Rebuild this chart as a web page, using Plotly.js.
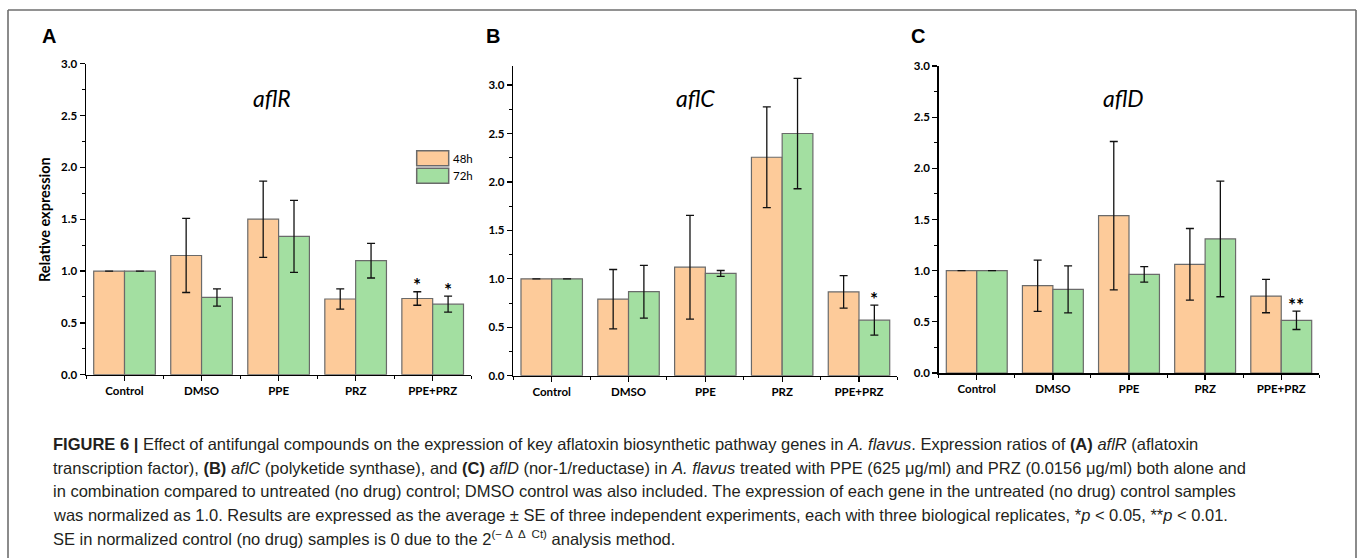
<!DOCTYPE html>
<html>
<head>
<meta charset="utf-8">
<script src="https://cdn.plot.ly/plotly-3.0.1.min.js"></script>
<style>html,body{margin:0;padding:0;background:#fff;}#chart{width:1358px;height:558px;}</style>
</head>
<body>
<div id="chart"></div>
<script>
// ---- data ----
const categories = ['Control', 'DMSO', 'PPE', 'PRZ', 'PPE+PRZ'];
const seriesNames = ['48h', '72h'];
const geneNames = ['aflR', 'aflC', 'aflD'];
const panelLetters = ['A', 'B', 'C'];

const aflR_48h = [1.00, 1.15, 1.50, 0.73, 0.735];
const aflR_48h_se = [0, 0.357, 0.368, 0.098, 0.065];
const aflR_72h = [1.00, 0.745, 1.335, 1.10, 0.68];
const aflR_72h_se = [0, 0.083, 0.347, 0.167, 0.077];
const aflR_48h_sig = ['', '', '', '', '*'];
const aflR_72h_sig = ['', '', '', '', '*'];

const aflC_48h = [1.00, 0.79, 1.12, 2.255, 0.865];
const aflC_48h_se = [0, 0.306, 0.535, 0.52, 0.167];
const aflC_72h = [1.00, 0.867, 1.056, 2.50, 0.573];
const aflC_72h_se = [0, 0.272, 0.03, 0.57, 0.155];
const aflC_48h_sig = ['', '', '', '', ''];
const aflC_72h_sig = ['', '', '', '', '*'];

const aflD_48h = [1.00, 0.853, 1.537, 1.062, 0.752];
const aflD_48h_se = [0, 0.25, 0.725, 0.35, 0.163];
const aflD_72h = [1.00, 0.817, 0.964, 1.31, 0.515];
const aflD_72h_se = [0, 0.23, 0.075, 0.565, 0.09];
const aflD_48h_sig = ['', '', '', '', ''];
const aflD_72h_sig = ['', '', '', '', '**'];

const yMax = [3.0, 3.2, 3.0];
const yTickLabels = ['0.0', '0.5', '1.0', '1.5', '2.0', '2.5', '3.0'];
const yTickValues = [0, 0.5, 1.0, 1.5, 2.0, 2.5, 3.0];

const captionLines = [
  '<b>FIGURE 6 |</b> Effect of antifungal compounds on the expression of key aflatoxin biosynthetic pathway genes in <i>A. flavus</i>. Expression ratios of <b>(A)</b> <i>aflR</i> (aflatoxin',
  'transcription factor), <b>(B)</b> <i>aflC</i> (polyketide synthase), and <b>(C)</b> <i>aflD</i> (nor-1/reductase) in <i>A. flavus</i> treated with PPE (625 μg/ml) and PRZ (0.0156 μg/ml) both alone and',
  'in combination compared to untreated (no drug) control; DMSO control was also included. The expression of each gene in the untreated (no drug) control samples',
  'was normalized as 1.0. Results are expressed as the average ± SE of three independent experiments, each with three biological replicates, *<i>p</i> &lt; 0.05, **<i>p</i> &lt; 0.01.',
  'SE in normalized control (no drug) samples is 0 due to the 2<sup>(− Δ  Δ  Ct)</sup> analysis method.'
];

// ---- styling / layout ----
const W = 1358, H = 558;
const px = v => v / W;
const py = v => 1 - v / H;
const colors = ['#FDCB9A', '#A3DFA1'];
const tickFont = {family: 'Lato, "Open Sans", sans-serif', size: 11.5, color: '#000', weight: 'bold'};

const panels = [
  {m48: aflR_48h, s48: aflR_48h_se, m72: aflR_72h, s72: aflR_72h_se, g48: aflR_48h_sig, g72: aflR_72h_sig,
   xd: [86, 471.2], yd: [374.7, 63.7], titleX: 271.7, letterX: 48.7},
  {m48: aflC_48h, s48: aflC_48h_se, m72: aflC_72h, s72: aflC_72h_se, g48: aflC_48h_sig, g72: aflC_72h_sig,
   xd: [513.3, 897.4], yd: [375.7, 65.7], titleX: 695.7, letterX: 492.7},
  {m48: aflD_48h, s48: aflD_48h_se, m72: aflD_72h, s72: aflD_72h_se, g48: aflD_48h_sig, g72: aflD_72h_sig,
   xd: [938.7, 1319.3], yd: [373, 66], titleX: 1123, letterX: 918.3}
];

const xIdx = categories.map((c, i) => i);
const traces = [];
const annotations = [];
const shapes = [];
const layout = {
  width: W, height: H,
  margin: {l: 0, r: 0, t: 0, b: 0},
  paper_bgcolor: '#fff', plot_bgcolor: 'rgba(0,0,0,0)',
  barmode: 'group', bargap: 0.2, bargroupgap: 0,
  showlegend: false,
  font: {family: 'Lato, sans-serif', color: '#000'}
};

panels.forEach((p, k) => {
  const sfx = k === 0 ? '' : String(k + 1);
  const xa = 'x' + sfx, ya = 'y' + sfx;
  const series = [[p.m48, p.s48, p.g48], [p.m72, p.s72, p.g72]];
  series.forEach((s, j) => {
    traces.push({
      type: 'bar', name: seriesNames[j], x: xIdx, y: s[0],
      xaxis: xa, yaxis: ya,
      marker: {color: colors[j], line: {color: '#6a6a6a', width: 1.2}},
      error_y: {type: 'data', array: s[1], visible: true, color: '#111', thickness: 1.3, width: 4},
      hoverinfo: 'skip'
    });
    s[2].forEach((t, i) => {
      if (!t) return;
      annotations.push({
        xref: xa, yref: ya, x: i + (j === 0 ? -0.2 : 0.2), y: s[0][i] + s[1][i],
        text: t, showarrow: false, yanchor: 'middle', yshift: 7,
        font: {family: 'Lato, sans-serif', size: 19, color: '#000', weight: 'bold'}
      });
    });
  });
  layout['xaxis' + sfx] = {
    domain: [px(p.xd[0]), px(p.xd[1])], anchor: ya, range: [-0.5, 4.5],
    tickmode: 'array', tickvals: xIdx, ticktext: categories,
    showline: true, linecolor: '#000', linewidth: 1.5, mirror: false,
    ticks: 'outside', ticklen: 5, tickwidth: 1.3, tickcolor: '#000',
    minor: {tickmode: 'linear', tick0: 0.5, dtick: 1, ticks: 'outside', ticklen: 3, tickwidth: 1, tickcolor: '#000'},
    showgrid: false, zeroline: false, tickfont: tickFont, fixedrange: true
  };
  layout['yaxis' + sfx] = {
    domain: [py(p.yd[0]), py(p.yd[1])], anchor: xa, range: [0, yMax[k]],
    tickmode: 'array', tickvals: yTickValues, ticktext: yTickLabels,
    showline: true, linecolor: '#000', linewidth: 1.5,
    ticks: 'outside', ticklen: 5, tickwidth: 1.3, tickcolor: '#000',
    minor: {tickmode: 'linear', tick0: 0, dtick: 0.25, ticks: 'outside', ticklen: 3, tickwidth: 1, tickcolor: '#000'},
    showgrid: false, zeroline: false, tickfont: tickFont, fixedrange: true
  };
  annotations.push({
    xref: 'paper', yref: 'paper', x: px(p.titleX), y: py(97.5), xanchor: 'center', yanchor: 'middle',
    text: '<i>' + geneNames[k] + '</i>', showarrow: false,
    font: {family: 'Lato, "Open Sans", sans-serif', size: 23, color: '#000'}
  });
  annotations.push({
    xref: 'paper', yref: 'paper', x: px(p.letterX), y: py(36), xanchor: 'center', yanchor: 'middle',
    text: '<b>' + panelLetters[k] + '</b>', showarrow: false,
    font: {family: '"Liberation Sans", Arial, sans-serif', size: 20, color: '#000'}
  });
});

// y-axis title
annotations.push({
  xref: 'paper', yref: 'paper', x: px(45), y: py(220), xanchor: 'center', yanchor: 'middle',
  text: '<b>Relative expression</b>', textangle: -90, showarrow: false,
  font: {family: 'Lato, sans-serif', size: 14.5, color: '#000'}
});

// legend (panel A)
const legY = [[150.7, 165.7], [168.3, 183.3]];
seriesNames.forEach((n, j) => {
  shapes.push({type: 'rect', xref: 'paper', yref: 'paper', x0: px(416.7), x1: px(448.7),
    y0: py(legY[j][1]), y1: py(legY[j][0]), fillcolor: colors[j], line: {color: '#6a6a6a', width: 1.5}});
  annotations.push({xref: 'paper', yref: 'paper', x: px(451), y: py((legY[j][0] + legY[j][1]) / 2),
    xanchor: 'left', yanchor: 'middle', text: n, showarrow: false,
    font: {family: 'Lato, sans-serif', size: 11.5, color: '#000'}});
});

// frame
const frameColor = '#6e6e6e';
shapes.push({type: 'line', xref: 'paper', yref: 'paper', x0: px(8), x1: px(1356), y0: py(10), y1: py(10), line: {color: frameColor, width: 1.6}});
shapes.push({type: 'line', xref: 'paper', yref: 'paper', x0: px(8), x1: px(8), y0: py(10), y1: 0, line: {color: frameColor, width: 1.6}});
shapes.push({type: 'line', xref: 'paper', yref: 'paper', x0: px(1356), x1: px(1356), y0: py(10), y1: 0, line: {color: frameColor, width: 1.6}});

// caption
const capY = [444, 467.5, 491, 514.5, 538];
captionLines.forEach((t, i) => {
  annotations.push({xref: 'paper', yref: 'paper', x: px(51), y: py(capY[i]), xanchor: 'left', yanchor: 'middle',
    text: t, showarrow: false, align: 'left',
    font: {family: '"Liberation Sans Narrow", "Arial Narrow", sans-serif', size: 16.5, color: '#231f20'}});
});

layout.annotations = annotations;
layout.shapes = shapes;
Plotly.newPlot('chart', traces, layout, {displayModeBar: false, staticPlot: true});
</script>
</body>
</html>
